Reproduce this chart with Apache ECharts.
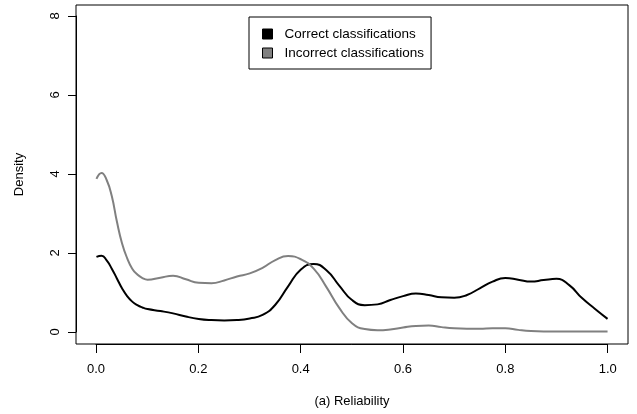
<!DOCTYPE html>
<html>
<head>
<meta charset="utf-8">
<script src="https://cdn.jsdelivr.net/npm/echarts@6/dist/echarts.min.js"></script>
<style>
  html, body { margin: 0; padding: 0; background: #fff; }
  #chart { width: 637px; height: 414px; }
</style>
</head>
<body>
<div id="chart"></div>
<script>
// density estimates
const xs = [0.0, 0.01, 0.02, 0.03, 0.04, 0.05, 0.06, 0.07, 0.08, 0.09, 0.1,
  0.125, 0.15, 0.175, 0.2, 0.225, 0.25, 0.275, 0.3,
  0.325, 0.35, 0.375, 0.4, 0.425, 0.45, 0.475, 0.5, 0.525, 0.55, 0.575, 0.6, 0.625, 0.65,
  0.675, 0.7, 0.725, 0.75, 0.775, 0.8, 0.825, 0.85, 0.875, 0.9, 0.925, 0.95, 0.975, 1.0];
const correct = [1.90, 1.93, 1.81, 1.60, 1.35, 1.10, 0.90, 0.76, 0.67, 0.61, 0.57,
  0.52, 0.46, 0.38, 0.32, 0.29, 0.28, 0.29, 0.33,
  0.42, 0.68, 1.15, 1.58, 1.72, 1.56, 1.17, 0.80, 0.67, 0.69, 0.80, 0.90, 0.97, 0.93,
  0.87, 0.86, 0.93, 1.10, 1.27, 1.36, 1.32, 1.27, 1.31, 1.34, 1.18, 0.85, 0.58, 0.32];
const incorrect = [3.89, 4.04, 3.86, 3.45, 2.80, 2.25, 1.87, 1.60, 1.45, 1.36, 1.32,
  1.37, 1.42, 1.33, 1.24, 1.23, 1.30, 1.40, 1.48,
  1.62, 1.82, 1.92, 1.84, 1.60, 1.13, 0.60, 0.21, 0.06, 0.03, 0.05, 0.10, 0.14, 0.15,
  0.11, 0.08, 0.07, 0.07, 0.08, 0.08, 0.04, 0.01, 0.0, 0.0, 0.0, 0.0, 0.0, 0.0];
const seriesNames = ["Correct classifications", "Incorrect classifications"];
const seriesColors = ["#000000", "#808080"];

const font = "Liberation Sans, Arial, sans-serif";
const chart = echarts.init(document.getElementById("chart"));

const pairs = (ys) => xs.map((x, i) => [x, ys[i]]);

chart.setOption({
  animation: false,
  textStyle: { fontFamily: font },
  grid: [
    // plot box
    { left: 76, right: 9, top: 5, bottom: 70, show: true, borderColor: "#000", borderWidth: 1 },
    // x axis, 0..1
    { left: 96, right: 29.3, top: 5, bottom: 70 },
    // y axis, 0..8
    { left: 76, right: 9, top: 16, bottom: 82 }
  ],
  xAxis: [
    {
      gridIndex: 0, type: "value", min: -0.04, max: 1.04,
      axisLine: { show: false }, axisTick: { show: false }, axisLabel: { show: false },
      splitLine: { show: false },
      name: "(a) Reliability", nameLocation: "middle", nameGap: 51,
      nameTextStyle: { color: "#000", fontSize: 13, fontFamily: font }
    },
    {
      gridIndex: 1, type: "value", min: 0, max: 1, interval: 0.2,
      axisLine: { show: true, lineStyle: { color: "#000", width: 1 } },
      axisTick: { show: true, length: 9, lineStyle: { color: "#000" } },
      axisLabel: { color: "#000", fontSize: 13, margin: 19, fontFamily: font,
        formatter: (v) => v.toFixed(1) },
      splitLine: { show: false }
    },
    { gridIndex: 2, type: "value", show: false }
  ],
  yAxis: [
    {
      gridIndex: 0, type: "value", min: -0.32, max: 8.32,
      axisLine: { show: false }, axisTick: { show: false }, axisLabel: { show: false },
      splitLine: { show: false },
      name: "Density", nameLocation: "middle", nameGap: 50,
      nameTextStyle: { color: "#000", fontSize: 13, fontFamily: font }
    },
    { gridIndex: 1, type: "value", show: false },
    {
      gridIndex: 2, type: "value", min: 0, max: 8, interval: 2,
      axisLine: { show: true, lineStyle: { color: "#000", width: 1 } },
      axisTick: { show: true, length: 8, lineStyle: { color: "#000" } },
      axisLabel: { color: "#000", fontSize: 13, margin: 14, rotate: 90, fontFamily: font },
      splitLine: { show: false }
    }
  ],
  legend: {
    left: 249, top: 17, orient: "vertical",
    padding: [10, 7, 9, 13], itemGap: 5,
    itemWidth: 10, itemHeight: 10,
    borderColor: "#000", borderWidth: 1,
    icon: "rect",
    itemStyle: { borderColor: "#000", borderWidth: 1 },
    textStyle: { color: "#000", fontSize: 13.5, fontFamily: font, padding: [0, 0, 0, 7] },
    data: seriesNames
  },
  series: [
    {
      name: seriesNames[0], type: "line", xAxisIndex: 0, yAxisIndex: 0,
      data: pairs(correct), smooth: 0.5, showSymbol: false,
      color: seriesColors[0],
      lineStyle: { color: seriesColors[0], width: 2 }
    },
    {
      name: seriesNames[1], type: "line", xAxisIndex: 0, yAxisIndex: 0,
      data: pairs(incorrect), smooth: 0.5, showSymbol: false,
      color: seriesColors[1],
      lineStyle: { color: seriesColors[1], width: 2 }
    }
  ]
});
</script>
</body>
</html>
